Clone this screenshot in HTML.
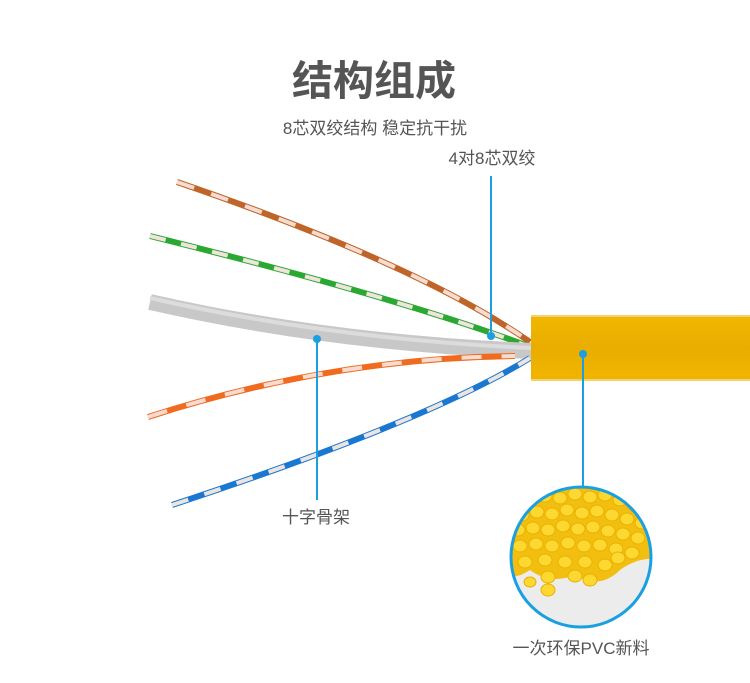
<!DOCTYPE html>
<html><head><meta charset="utf-8"><style>
html,body{margin:0;padding:0;background:#fff;}
svg{display:block}
text{font-family:"Liberation Sans","Noto Sans CJK SC",sans-serif;fill:#555}
</style></head><body>
<svg width="750" height="683" viewBox="0 0 750 683" xmlns="http://www.w3.org/2000/svg">
<defs>
<clipPath id="cc"><circle cx="581" cy="557" r="70"/></clipPath>
<linearGradient id="jk" x1="0" y1="0" x2="0" y2="1">
<stop offset="0" stop-color="#f0b800"/><stop offset="0.5" stop-color="#e9ad00"/><stop offset="1" stop-color="#f1b500"/>
</linearGradient>
</defs>
<text x="374" y="95" font-size="41" font-weight="bold" text-anchor="middle" fill="#555">结构组成</text>
<text x="375" y="134" font-size="17" text-anchor="middle">8芯双绞结构 稳定抗干扰</text>
<text x="492" y="164" font-size="17" text-anchor="middle">4对8芯双绞</text>

<!-- brown -->
<path d="M177,182 Q420,265 530,342" stroke="#c0652a" stroke-width="6" fill="none"/>
<path d="M177,182 Q420,265 530,342" stroke="#f4dcd0" stroke-width="4" fill="none" stroke-dasharray="18 18"/>
<!-- green -->
<path d="M150,236 Q400,298 525,345" stroke="#2aa832" stroke-width="6" fill="none"/>
<path d="M150,236 Q400,298 525,345" stroke="#f0e4dc" stroke-width="4" fill="none" stroke-dasharray="16 16"/>
<!-- spine -->
<path d="M150,302 Q330,343 532,351" stroke="#c8c8c8" stroke-width="16" fill="none"/>
<path d="M150,298 Q330,339 532,348" stroke="#dcdcdc" stroke-width="4" fill="none"/>
<!-- orange -->
<path d="M148,417 Q330,358 515,356" stroke="#f06a20" stroke-width="6" fill="none"/>
<path d="M148,417 Q330,358 515,356" stroke="#f6dcd0" stroke-width="4" fill="none" stroke-dasharray="20 20"/>
<!-- blue -->
<path d="M172,505 Q430,420 530,358" stroke="#1a78d0" stroke-width="6" fill="none"/>
<path d="M172,505 Q430,420 530,358" stroke="#ede4e0" stroke-width="4" fill="none" stroke-dasharray="17 17"/>

<!-- jacket -->
<rect x="531" y="315" width="219" height="66" fill="url(#jk)"/>
<rect x="531" y="315" width="219" height="2" fill="#f5d070"/>
<rect x="531" y="379" width="219" height="2" fill="#f5d070"/>

<!-- callouts -->
<line x1="491" y1="176" x2="491" y2="336" stroke="#1a9fe0" stroke-width="2"/>
<circle cx="491" cy="336" r="4" fill="#1a9fe0"/>
<line x1="317" y1="339" x2="317" y2="500" stroke="#1a9fe0" stroke-width="2"/>
<circle cx="317" cy="339" r="4" fill="#1a9fe0"/>
<line x1="583" y1="354" x2="583" y2="487" stroke="#1a9fe0" stroke-width="2"/>
<circle cx="583" cy="354" r="4" fill="#1a9fe0"/>
<text x="316" y="523" font-size="17" text-anchor="middle">十字骨架</text>

<!-- pellets -->
<g clip-path="url(#cc)">
<rect x="505" y="480" width="160" height="160" fill="#ececec"/>
<path d="M505,480 H665 V560 Q640,555 620,570 Q600,590 575,575 Q550,585 530,570 Q515,580 505,575 Z" fill="#f2bf10"/>
<g fill="#fcd830" stroke="#eab000" stroke-width="1">
<ellipse cx="530" cy="500" rx="7" ry="6"/><ellipse cx="545" cy="496" rx="7" ry="6"/><ellipse cx="560" cy="498" rx="7" ry="6"/><ellipse cx="575" cy="494" rx="7" ry="6"/><ellipse cx="590" cy="497" rx="7" ry="6"/><ellipse cx="605" cy="495" rx="7" ry="6"/><ellipse cx="620" cy="500" rx="7" ry="6"/><ellipse cx="635" cy="506" rx="7" ry="6"/>
<ellipse cx="522" cy="515" rx="7" ry="6"/><ellipse cx="537" cy="512" rx="7" ry="6"/><ellipse cx="552" cy="514" rx="7" ry="6"/><ellipse cx="567" cy="510" rx="7" ry="6"/><ellipse cx="582" cy="513" rx="7" ry="6"/><ellipse cx="597" cy="511" rx="7" ry="6"/><ellipse cx="612" cy="515" rx="7" ry="6"/><ellipse cx="627" cy="519" rx="7" ry="6"/><ellipse cx="642" cy="523" rx="7" ry="6"/>
<ellipse cx="518" cy="530" rx="7" ry="6"/><ellipse cx="533" cy="528" rx="7" ry="6"/><ellipse cx="548" cy="530" rx="7" ry="6"/><ellipse cx="563" cy="526" rx="7" ry="6"/><ellipse cx="578" cy="529" rx="7" ry="6"/><ellipse cx="593" cy="527" rx="7" ry="6"/><ellipse cx="608" cy="531" rx="7" ry="6"/><ellipse cx="623" cy="534" rx="7" ry="6"/><ellipse cx="638" cy="538" rx="7" ry="6"/>
<ellipse cx="520" cy="546" rx="7" ry="6"/><ellipse cx="536" cy="544" rx="7" ry="6"/><ellipse cx="552" cy="546" rx="7" ry="6"/><ellipse cx="568" cy="543" rx="7" ry="6"/><ellipse cx="584" cy="546" rx="7" ry="6"/><ellipse cx="600" cy="545" rx="7" ry="6"/><ellipse cx="616" cy="549" rx="7" ry="6"/><ellipse cx="632" cy="553" rx="7" ry="6"/>
<ellipse cx="525" cy="562" rx="7" ry="6"/><ellipse cx="545" cy="560" rx="7" ry="6"/><ellipse cx="565" cy="562" rx="7" ry="6"/><ellipse cx="585" cy="562" rx="7" ry="6"/><ellipse cx="605" cy="565" rx="7" ry="6"/><ellipse cx="618" cy="558" rx="7" ry="6"/>
<ellipse cx="548" cy="577" rx="7" ry="6"/><ellipse cx="575" cy="576" rx="7" ry="6"/><ellipse cx="590" cy="580" rx="7" ry="6"/><ellipse cx="530" cy="582" rx="6" ry="5"/><ellipse cx="548" cy="590" rx="7" ry="6"/>
</g>
</g>
<circle cx="581" cy="557" r="70" fill="none" stroke="#1a9fe0" stroke-width="3"/>
<text x="581" y="654" font-size="17" text-anchor="middle">一次环保PVC新料</text>
</svg>
</body></html>
